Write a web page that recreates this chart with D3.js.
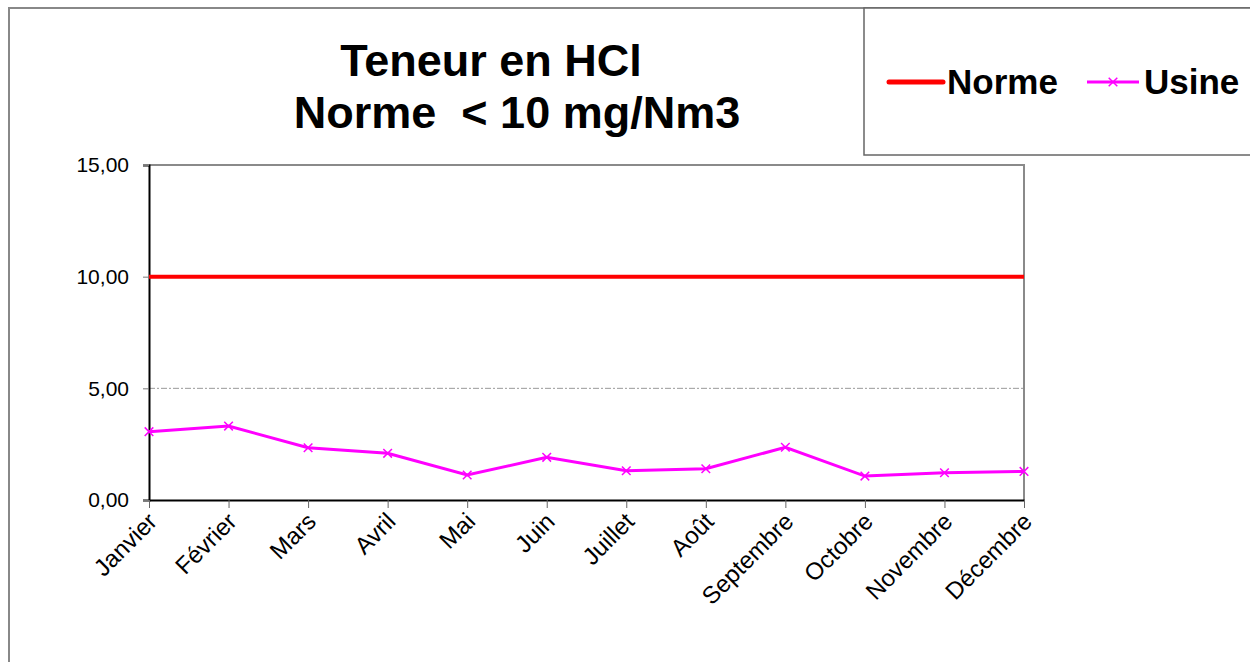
<!DOCTYPE html>
<html>
<head>
<meta charset="utf-8">
<script src="https://cdn.jsdelivr.net/npm/d3@7"></script>
<style>
  html, body { margin: 0; padding: 0; background: #fff; }
  svg { display: block; font-family: "Liberation Sans", Arial, sans-serif; }
  .titre { white-space: pre; }
</style>
</head>
<body>
<div id="chart"></div>
<script>
// Données
var months = ["Janvier", "Février", "Mars", "Avril", "Mai", "Juin", "Juillet", "Août", "Septembre", "Octobre", "Novembre", "Décembre"];
var norme = [10, 10, 10, 10, 10, 10, 10, 10, 10, 10, 10, 10];
var usine = [3.06, 3.31, 2.34, 2.09, 1.12, 1.91, 1.31, 1.40, 2.36, 1.07, 1.22, 1.28];
var yTicks = [0, 5, 10, 15];
var titleLines = ["Teneur en HCl", "Norme  < 10 mg/Nm3"];

var W = 1250, H = 662;
var plot = {left: 149, right: 1024, top: 165, bottom: 500};

var svg = d3.select("#chart").append("svg")
  .attr("width", W)
  .attr("height", H);

// cadre du graphique
svg.append("path")
  .attr("d", "M9," + H + " V8 H" + W)
  .attr("fill", "none")
  .attr("stroke", "#888")
  .attr("stroke-width", 2);

var x = d3.scalePoint().domain(months).range([plot.left, plot.right]).padding(0);
var y = d3.scaleLinear().domain([0, 15]).range([plot.bottom, plot.top]);

// titre
svg.append("text").attr("class", "titre").attr("x", 491).attr("y", 76)
  .attr("text-anchor", "middle").attr("font-size", 45).attr("font-weight", "bold")
  .text(titleLines[0]);
svg.append("text").attr("class", "titre").attr("x", 517).attr("y", 128)
  .attr("text-anchor", "middle").attr("font-size", 45).attr("font-weight", "bold")
  .text(titleLines[1]);

// grille 5,00
svg.append("line")
  .attr("x1", plot.left).attr("x2", plot.right)
  .attr("y1", y(5)).attr("y2", y(5))
  .attr("stroke", "#999").attr("stroke-width", 1)
  .attr("stroke-dasharray", "6,2,2,2");

// bordure haut / droite
svg.append("path")
  .attr("d", "M" + plot.left + "," + plot.top + " H" + plot.right + " V" + plot.bottom)
  .attr("fill", "none").attr("stroke", "#8a8a8a").attr("stroke-width", 2);

// axe Y
var yAxis = svg.append("g")
  .attr("transform", "translate(" + plot.left + ",0)")
  .call(d3.axisLeft(y).tickValues(yTicks).tickSize(6).tickPadding(14)
    .tickFormat(function(d){ return d3.format(".2f")(d).replace(".", ","); }));
yAxis.select(".domain").attr("stroke", "#000").attr("stroke-width", 2);
yAxis.selectAll(".tick line").attr("stroke", "#777");
yAxis.selectAll("text").attr("font-size", 21).attr("fill", "#000")
  .attr("font-family", "Liberation Sans, Arial, sans-serif");

// axe X
var xAxis = svg.append("g")
  .attr("transform", "translate(0," + plot.bottom + ")")
  .call(d3.axisBottom(x).tickSize(8).tickSizeOuter(0));
xAxis.select(".domain").attr("stroke", "#000").attr("stroke-width", 2);
xAxis.selectAll(".tick line").attr("stroke", "#666");
xAxis.selectAll("text")
  .attr("font-size", 24).attr("fill", "#000")
  .attr("font-family", "Liberation Sans, Arial, sans-serif")
  .attr("text-anchor", "end")
  .attr("dy", null).attr("y", null)
  .attr("transform", "translate(9,23) rotate(-45)");

// ligne Norme
var line = d3.line().x(function(d, i){ return x(months[i]); }).y(function(d){ return y(d); });
svg.append("path").datum(norme)
  .attr("d", line)
  .attr("fill", "none").attr("stroke", "#ff0000").attr("stroke-width", 4);

// ligne Usine
svg.append("path").datum(usine)
  .attr("d", line)
  .attr("fill", "none").attr("stroke", "#ff00ff").attr("stroke-width", 3);

var cross = d3.symbol().type(d3.symbolX).size(50);
svg.selectAll(".mk").data(usine).enter().append("path")
  .attr("class", "mk")
  .attr("d", cross)
  .attr("transform", function(d, i){ return "translate(" + x(months[i]) + "," + y(d) + ")"; })
  .attr("fill", "none").attr("stroke", "#ff00ff").attr("stroke-width", 1.5);

// légende
var leg = svg.append("g");
leg.append("rect").attr("x", 864).attr("y", 8).attr("width", 400).attr("height", 147)
  .attr("fill", "#fff").attr("stroke", "#666").attr("stroke-width", 1.5);
leg.append("line").attr("x1", 889).attr("x2", 943).attr("y1", 82).attr("y2", 82)
  .attr("stroke", "#ff0000").attr("stroke-width", 5).attr("stroke-linecap", "round");
leg.append("text").attr("x", 947).attr("y", 94)
  .attr("font-size", 35).attr("font-weight", "bold").text("Norme");
leg.append("line").attr("x1", 1087).attr("x2", 1139).attr("y1", 82).attr("y2", 82)
  .attr("stroke", "#ff00ff").attr("stroke-width", 3);
leg.append("path").attr("d", cross)
  .attr("transform", "translate(1113,82)")
  .attr("fill", "none").attr("stroke", "#ff00ff").attr("stroke-width", 1.5);
leg.append("text").attr("x", 1144).attr("y", 94)
  .attr("font-size", 35).attr("font-weight", "bold").text("Usine");
</script>
</body>
</html>
